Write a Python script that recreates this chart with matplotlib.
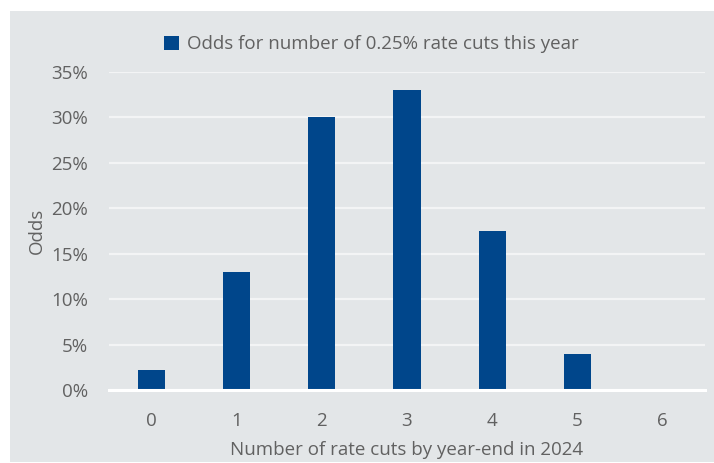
import numpy as np
import matplotlib
matplotlib.use('Agg')
from matplotlib import pyplot as plt
from matplotlib.patches import Patch
from matplotlib.ticker import FuncFormatter

# data
cuts = ['0', '1', '2', '3', '4', '5', '6']
odds = [2.2, 13.0, 30.0, 33.0, 17.5, 4.0, 0.0]
y_ticks = [0, 5, 10, 15, 20, 25, 30, 35]
series_name = 'Odds for number of 0.25% rate cuts this year'

bar_color = '#00468b'
bg_color = '#e3e6e8'
text_color = '#616161'

plt.rcParams['font.family'] = ['Open Sans', 'DejaVu Sans']

fig = plt.figure(figsize=(7.14, 4.63), dpi=100)
fig.patch.set_facecolor('white')

# gray panel behind the chart
bg = fig.add_axes([10 / 714, 1 / 463, 1, 1 - 12 / 463], zorder=-1)
bg.set_facecolor(bg_color)
bg.set_xticks([])
bg.set_yticks([])
for s in bg.spines.values():
    s.set_visible(False)

ax = fig.add_axes([109 / 714, 73 / 463, 596 / 714, 318 / 463])
ax.set_facecolor('none')

x = np.arange(len(cuts))
ax.bar(x, odds, width=0.32, color=bar_color, zorder=3)

ax.set_xlim(-0.5, len(cuts) - 0.5)
ax.set_ylim(0, 35)
ax.set_yticks(y_ticks)
ax.yaxis.set_major_formatter(FuncFormatter(lambda v, p: f'{v:.0f}%'))
ax.set_xticks(x)
ax.set_xticklabels(cuts)

ax.grid(axis='y', color='#f3f4f5', linewidth=1.6, zorder=1)
for s in ['top', 'right', 'left']:
    ax.spines[s].set_visible(False)
ax.spines['bottom'].set_color('white')
ax.spines['bottom'].set_linewidth(2.2)
ax.spines['bottom'].set_zorder(4)

ax.tick_params(axis='both', length=0, labelsize=13.5, colors=text_color)
ax.tick_params(axis='y', pad=15)
ax.tick_params(axis='x', pad=16)

ax.set_xlabel('Number of rate cuts by year-end in 2024', fontsize=13.5,
              color=text_color, labelpad=8)
ax.set_ylabel('Odds', fontsize=13.5, color=text_color, labelpad=4)

handle = Patch(facecolor=bar_color, edgecolor='none')
ax.legend([handle], [series_name], loc='lower center',
          bbox_to_anchor=(0.44, 1.035), frameon=False, fontsize=13.5,
          labelcolor=text_color, handlelength=0.8, handleheight=0.8,
          handletextpad=0.4, borderaxespad=0)

fig.savefig('out.png', dpi=100)
